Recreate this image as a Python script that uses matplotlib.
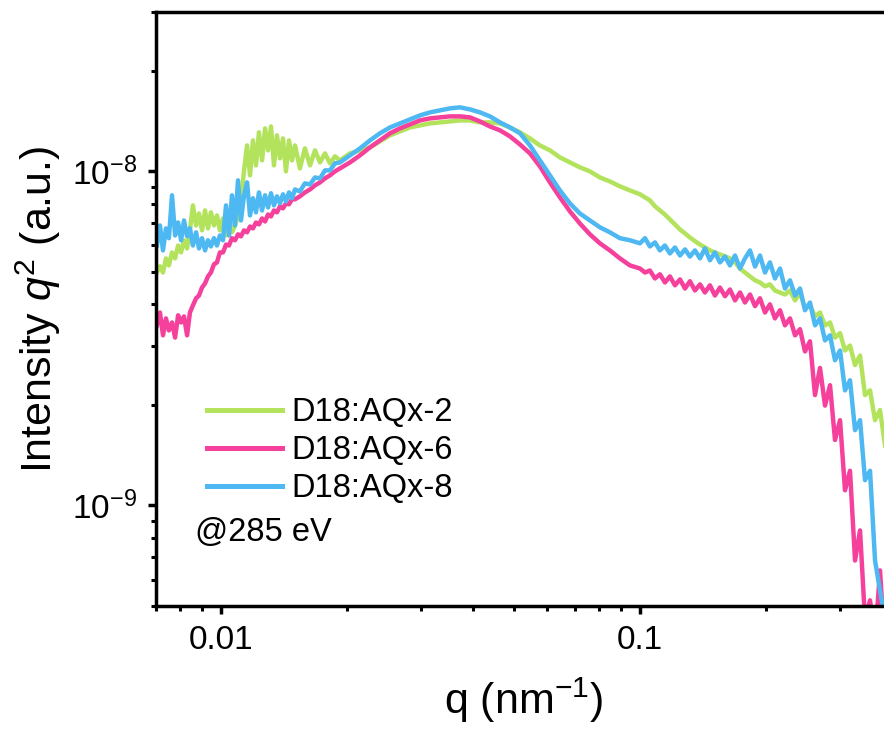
import matplotlib
matplotlib.use("Agg")
import matplotlib.pyplot as plt
from matplotlib.ticker import LogLocator, NullFormatter, FixedLocator, FixedFormatter
import numpy as np

plt.rcParams['font.family'] = ['Liberation Sans', 'DejaVu Sans']
plt.rcParams['mathtext.fontset'] = 'custom'
plt.rcParams['mathtext.rm'] = 'Liberation Sans'
plt.rcParams['mathtext.it'] = 'Liberation Sans:italic'
plt.rcParams['mathtext.default'] = 'regular'

# q values (nm^-1)
q = [0.00703, 0.00715, 0.00727, 0.00739, 0.00751, 0.00764, 0.00777, 0.00790, 0.00803, 0.00816,
     0.00830, 0.00843, 0.00857, 0.00872, 0.00886, 0.00901, 0.00916, 0.00931, 0.00946, 0.00962,
     0.00978, 0.00994, 0.01011, 0.01028, 0.01045, 0.01062, 0.01080, 0.01098, 0.01116, 0.01135,
     0.01154, 0.01173, 0.01192, 0.01212, 0.01232, 0.01253, 0.01274, 0.01295, 0.01316, 0.01338,
     0.01360, 0.01383, 0.01406, 0.01429, 0.01453, 0.01477, 0.01502,
     0.01543, 0.01586, 0.01631, 0.01676, 0.01723, 0.01771, 0.01820, 0.01871, 0.01923,
     0.02032, 0.02147, 0.02268, 0.02395, 0.02531, 0.02674, 0.02825, 0.02985, 0.03154, 0.03332,
     0.03520, 0.03719, 0.03929, 0.04151, 0.04385, 0.04633, 0.04895, 0.05171, 0.05463, 0.05771,
     0.06097, 0.06442, 0.06806, 0.07190, 0.07596, 0.08025, 0.08478, 0.08957, 0.09465,
     0.1000, 0.1028, 0.1056, 0.1086, 0.1116, 0.1147, 0.1179, 0.1212, 0.1246, 0.1281,
     0.1316, 0.1353, 0.1391, 0.1429, 0.1469, 0.1510, 0.1552, 0.1596, 0.1640, 0.1686,
     0.1733, 0.1781, 0.1831, 0.1882, 0.1934, 0.1988, 0.2043, 0.2100, 0.2159, 0.2219,
     0.2281, 0.2345, 0.2410, 0.2477, 0.2546, 0.2617, 0.2690, 0.2765, 0.2842, 0.2921,
     0.3003, 0.3086, 0.3172, 0.3261, 0.3352, 0.3445, 0.3541, 0.3640, 0.3741, 0.3846, 0.3953]

# Intensity*q^2 in units of 1e-9
aqx2 = [4.98, 5.20, 4.98, 5.49, 5.23, 5.72, 5.49, 6.00, 5.72, 6.22,
        5.88, 6.66, 7.91, 6.89, 7.48, 6.66, 7.64, 6.75, 7.54, 6.89,
        7.38, 6.66, 7.23, 6.43, 7.38, 6.57, 6.89, 7.38, 8.19, 10.07,
        11.96, 9.73, 12.38, 10.42, 13.09, 10.79, 13.45, 11.56, 13.63, 10.42,
        12.82, 10.94, 12.55, 10.00, 12.38, 10.79, 11.96,
        10.21, 11.72, 10.42, 11.56, 10.64, 11.32, 10.57, 11.09, 10.79,
        11.32, 11.56, 11.80, 12.30, 12.82, 13.18, 13.54, 13.73, 13.92, 14.02,
        14.11, 14.21, 14.21, 14.02, 14.02, 13.92, 13.54, 13.09, 12.55, 11.96,
        11.56, 11.01, 10.64, 10.28, 10.00, 9.59, 9.33, 9.02, 8.77,
        8.54, 8.36, 8.19, 7.86, 7.64, 7.43, 7.18, 6.94, 6.70, 6.52,
        6.34, 6.18, 6.04, 5.92, 5.80, 5.72, 5.64, 5.56, 5.49, 5.34,
        5.12, 4.98, 4.85, 4.72, 4.65, 4.53, 4.59, 4.40, 4.34, 4.28,
        4.40, 4.11, 4.34, 3.89, 3.97, 3.68, 3.78, 3.46, 3.53, 3.18,
        3.28, 2.91, 3.01, 2.63, 2.81, 2.14, 2.21, 1.80, 1.93, 1.51, 1.36]

aqx6 = [3.46, 3.78, 3.23, 3.63, 3.34, 3.53, 3.18, 3.71, 3.53, 3.68,
        3.23, 3.78, 3.97, 4.17, 4.25, 4.49, 4.62, 4.85, 4.98, 5.27,
        5.34, 5.72, 5.72, 6.04, 6.00, 6.31, 6.22, 6.48, 6.39, 6.66,
        6.57, 6.84, 6.75, 7.03, 6.94, 7.23, 7.08, 7.43, 7.33, 7.64,
        7.54, 7.86, 7.75, 8.02, 7.97, 8.25, 8.25,
        8.42, 8.65, 8.83, 9.08, 9.27, 9.53, 9.73, 10.00, 10.21,
        10.64, 11.17, 11.80, 12.38, 13.00, 13.45, 13.82, 14.21, 14.41, 14.51,
        14.61, 14.61, 14.51, 14.11, 13.63, 13.27, 12.73, 12.04, 11.32, 10.35,
        9.27, 8.36, 7.59, 6.98, 6.48, 6.09, 5.80, 5.49, 5.23,
        5.12, 4.98, 5.05, 4.78, 4.92, 4.65, 4.85, 4.56, 4.75, 4.46,
        4.69, 4.40, 4.59, 4.34, 4.56, 4.25, 4.49, 4.23, 4.43, 4.11,
        4.34, 4.05, 4.28, 3.95, 4.17, 3.78, 4.00, 3.63, 3.84, 3.46,
        3.63, 3.23, 3.37, 2.89, 3.10, 2.14, 2.58, 1.99, 2.29, 1.57,
        1.80, 1.11, 1.27, 0.684, 0.842, 0.453, 0.520, 0.395, 0.639, 0.368, 0.343]

aqx8 = [6.00, 6.89, 5.80, 6.75, 6.31, 8.48, 6.43, 7.03, 6.22, 7.13,
        6.39, 6.75, 6.00, 6.57, 5.88, 6.31, 5.80, 6.22, 5.96, 6.31,
        6.00, 6.43, 6.22, 7.91, 6.43, 8.48, 6.89, 9.40, 7.13, 8.48,
        9.27, 7.38, 8.31, 7.54, 8.65, 7.64, 8.48, 7.80, 8.60, 7.91,
        8.42, 8.02, 8.54, 8.13, 8.65, 8.31, 8.83,
        8.71, 9.21, 9.14, 9.59, 9.53, 10.07, 10.07, 10.57, 10.64,
        11.17, 11.72, 12.38, 13.00, 13.54, 13.92, 14.31, 14.71, 15.02, 15.23,
        15.44, 15.55, 15.33, 15.02, 14.61, 14.02, 13.54, 13.00, 11.96, 10.79,
        9.73, 8.77, 8.02, 7.48, 7.13, 6.80, 6.57, 6.31, 6.22,
        6.09, 6.31, 5.96, 6.13, 5.80, 6.00, 5.68, 5.92, 5.60, 5.84,
        5.56, 5.80, 5.49, 5.88, 5.42, 5.72, 5.34, 5.56, 5.23, 5.60,
        5.12, 5.49, 5.80, 5.19, 5.60, 4.98, 5.34, 4.78, 5.12, 4.46,
        4.72, 4.25, 4.46, 3.84, 4.05, 3.46, 3.63, 3.12, 3.23, 2.72,
        2.91, 2.21, 2.37, 1.68, 1.80, 1.19, 1.27, 0.684, 0.557, 0.453, 0.395]

labels = ['D18:AQx-2', 'D18:AQx-6', 'D18:AQx-8']
colors = ['#b3e35c', '#f5409c', '#4db8f2']
series = [aqx2, aqx6, aqx8]

W, H = 884, 742
fig = plt.figure(figsize=(W / 100, H / 100), dpi=100)
x0, x1 = 156.1, 892.2
y0, y1 = 12, 606
ax = fig.add_axes([x0 / W, 1 - y1 / H, (x1 - x0) / W, (y1 - y0) / H])

qa = np.array(q)
for vals, lab, c in zip(series, labels, colors):
    ax.plot(qa, np.array(vals) * 1e-9, color=c, lw=3.2, label=lab, solid_joinstyle='round')

ax.set_xscale('log')
ax.set_yscale('log')
ax.set_xlim(0.007, 0.4)
ax.set_ylim(5e-10, 3e-8)

ax.xaxis.set_major_locator(FixedLocator([0.01, 0.1]))
ax.xaxis.set_major_formatter(FixedFormatter(['0.01', '0.1']))
ax.xaxis.set_minor_locator(LogLocator(base=10, subs=np.arange(2, 10)))
ax.xaxis.set_minor_formatter(NullFormatter())
ax.yaxis.set_major_locator(FixedLocator([1e-9, 1e-8]))
ax.yaxis.set_major_formatter(FixedFormatter([r'$10^{-9}$', r'$10^{-8}$']))
ax.yaxis.set_minor_locator(LogLocator(base=10, subs=np.arange(2, 10)))
ax.yaxis.set_minor_formatter(NullFormatter())

for s in ax.spines.values():
    s.set_linewidth(2.5)
ax.tick_params(which='major', direction='out', length=6, width=2.5, labelsize=24, pad=8,
               top=False, right=False)
ax.tick_params(which='minor', direction='out', length=3.5, width=2.2, top=False, right=False)

ax.set_xlabel(r'q (nm$^{-1}$)', fontsize=31, labelpad=14)
ax.set_ylabel(r'Intensity $\mathit{q}^{2}$ (a.u.)', fontsize=31, labelpad=6)

leg = ax.legend(loc='upper left', bbox_to_anchor=(207 / W, 1 - 397 / H), bbox_transform=fig.transFigure,
                frameon=False, fontsize=23.5, handlelength=2.3, handletextpad=0.3,
                labelspacing=0.22, borderpad=0, borderaxespad=0)
for ln in leg.get_lines():
    ln.set_linewidth(3.6)

fig.text(195 / W, 1 - 533 / H, '@285 eV', fontsize=23.5, va='center', ha='left')

fig.savefig('out.png', dpi=100)
